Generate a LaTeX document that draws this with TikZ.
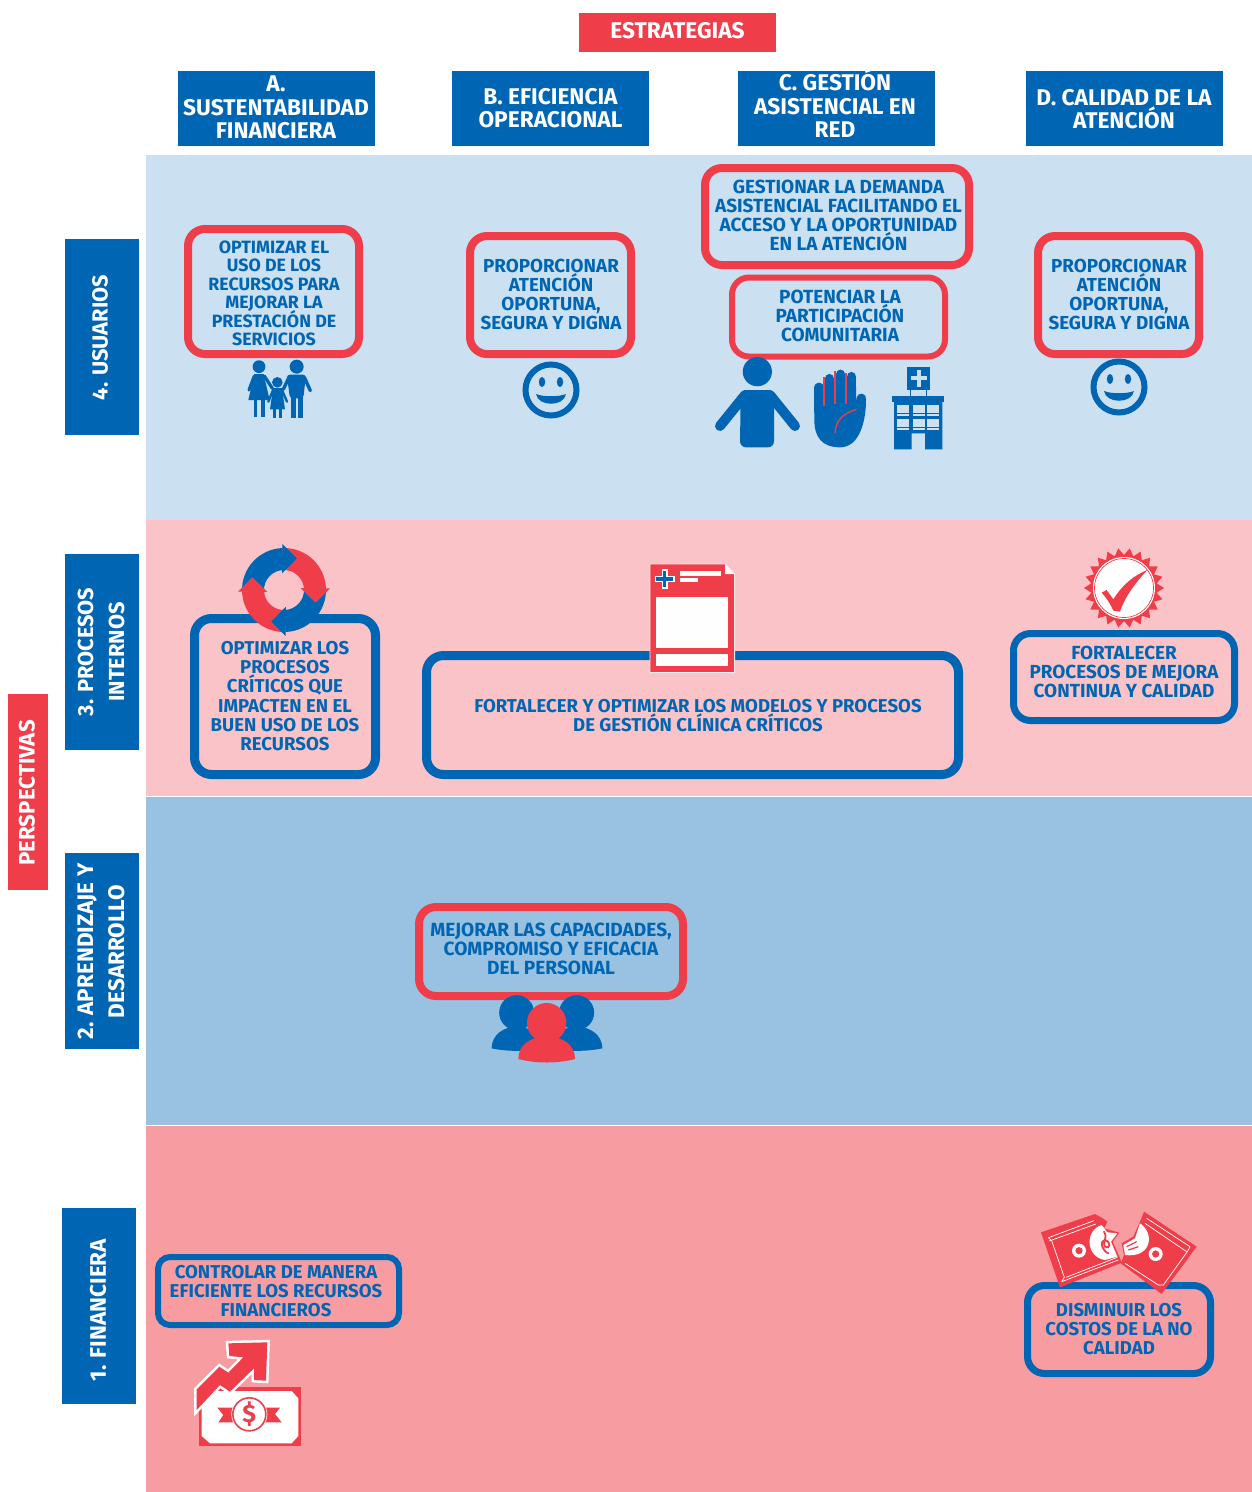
\documentclass[tikz,border=0pt]{standalone}
\usepackage{fontspec}
\setmainfont{Fira Sans}
\definecolor{cred}{HTML}{EF3E4A}
\definecolor{cblue}{HTML}{0066B3}
\definecolor{band1}{HTML}{CBE0F0}
\definecolor{band2}{HTML}{F9C3C7}
\definecolor{band3}{HTML}{99C2E2}
\definecolor{band4}{HTML}{F79CA1}
\newcommand\fsz[2]{\bfseries\fontsize{#1}{#2}\selectfont\lineskiplimit=-30pt\relax}
\tikzset{
 hbox/.style={fill=#1,inner sep=0pt,minimum width=197pt,minimum height=75pt},
 htxt/.style={text=white,font=\fsz{22.7}{23.5},align=center,inner sep=0pt},
 sbox/.style={fill=#1,inner sep=0pt,minimum width=74pt,minimum height=196pt},
 stxt/.style={text=white,font=\fsz{#1}{31},align=center,inner sep=0pt,rotate=90},
 rbox/.style={draw=#1,rounded corners=17pt,inner sep=0pt,outer sep=0pt,line width=8pt},
 ltxt/.style={text=cblue,font=\fsz{#1}{19},align=center,inner sep=0pt},
 z/.style 2 args={shift={(#1,#2)},x=.33333pt,y=-.33333pt},
}
\newcommand\smileyicon[2]{%
 \begin{scope}[shift={(#1,#2)}]
  \draw[cblue,line width=6pt] (0,0) circle (25.5pt);
  \fill[cblue] (-9,-8) ellipse (3.2pt and 5pt);
  \fill[cblue] (9,-8) ellipse (3.2pt and 5pt);
  \fill[cblue] (-15,4) .. controls (-8,7) and (8,7) .. (15,4) .. controls (13,17) and (-13,17) .. (-15,4) -- cycle;
 \end{scope}}
\begin{document}
\begin{tikzpicture}[x=1pt,y=-1pt]
\useasboundingbox (0,0) rectangle (1252,1492);
\fill[white] (0,0) rectangle (1252,1492);
% bands
\fill[band1] (146,155) rectangle (1252,520);
\fill[band2] (146,520) rectangle (1252,796);
\fill[band3] (146,797) rectangle (1252,1125);
\fill[band4] (146,1126) rectangle (1252,1492);
% headers
\node[hbox=cred,minimum height=39pt] (est) at (677.5,32.5) {};
\node[htxt] (estt) at (677.5,31) {ESTRATEGIAS};
\node[hbox=cblue] (ha) at (276.5,108.5) {};
\node[htxt] (hat) at (276,107.5) {A.\\SUSTENTABILIDAD\\FINANCIERA};
\node[hbox=cblue] (hb) at (550.5,108.5) {};
\node[htxt] (hbt) at (550.5,108) {B. EFICIENCIA\\OPERACIONAL};
\node[hbox=cblue] (hc) at (836.5,108.5) {};
\node[htxt] (hct) at (835,103.5) {C. GESTIÓN\\ASISTENCIAL EN\\RED};
\node[hbox=cblue] (hd) at (1124.5,108.5) {};
\node[htxt] (hdt) at (1124,109) {D. CALIDAD DE LA\\ATENCIÓN};
% side labels
\node[sbox=cblue] (s4) at (102,337) {};
\node[stxt=21.8] (s4t) at (100,337.5) {4. USUARIOS};
\node[sbox=cblue] (s3) at (102,652) {};
\node[stxt=21.8] (s3t) at (101,652) {3. PROCESOS\\INTERNOS};
\node[sbox=cblue] (s2) at (102,951) {};
\node[stxt=22.5] (s2t) at (101,951.5) {2. APRENDIZAJE Y\\DESARROLLO};
\node[sbox=cblue] (s1) at (99,1306) {};
\node[stxt=22.5] (s1t) at (98,1310) {1. FINANCIERA};
\node[sbox=cred,minimum width=40pt] (persp) at (28,792) {};
\node[stxt=22.3] (perspt) at (27,793) {PERSPECTIVAS};
% boxes row 4
\node[rbox=cred,minimum width=171pt,minimum height=125pt] (a4) at (273.5,291.5) {};
\node[ltxt=17.8,font=\fsz{17.8}{18.5}] (a4t) at (274,293.5) {OPTIMIZAR EL\\USO DE LOS\\RECURSOS PARA\\MEJORAR LA\\PRESTACIÓN DE\\SERVICIOS};
\node[rbox=cred,minimum width=161pt,minimum height=118pt] (b4) at (550.5,295) {};
\node[ltxt=18.8] (b4t) at (551,294.5) {PROPORCIONAR\\ATENCIÓN\\OPORTUNA,\\SEGURA Y DIGNA};
\node[rbox=cred,minimum width=264pt,minimum height=97pt] (c4a) at (837,216.5) {};
\node[ltxt=19] (c4at) at (838.5,215.5) {GESTIONAR LA DEMANDA\\ASISTENCIAL FACILITANDO EL\\ACCESO Y LA OPORTUNIDAD\\EN LA ATENCIÓN};
\node[rbox=cred,line width=6pt,minimum width=213pt,minimum height=79pt] (c4b) at (838.5,317) {};
\node[ltxt=19] (c4bt) at (840,316) {POTENCIAR LA\\PARTICIPACIÓN\\COMUNITARIA};
\node[rbox=cred,minimum width=161pt,minimum height=118pt] (d4) at (1118.5,295) {};
\node[ltxt=18.8] (d4t) at (1119,294.5) {PROPORCIONAR\\ATENCIÓN\\OPORTUNA,\\SEGURA Y DIGNA};
% boxes row 3
\node[rbox=cblue,line width=9pt,minimum width=181pt,minimum height=156pt] (a3) at (285,696.5) {};
\node[ltxt=18.6,font=\fsz{18.6}{19.2}] (a3t) at (285,696) {OPTIMIZAR LOS\\PROCESOS\\CRÍTICOS QUE\\IMPACTEN EN EL\\BUEN USO DE LOS\\RECURSOS};
\node[rbox=cblue,line width=9pt,minimum width=532pt,minimum height=119pt] (bc3) at (692.5,715) {};
\node[ltxt=18.6] (bc3t) at (698,716) {FORTALECER Y OPTIMIZAR LOS MODELOS Y PROCESOS\\DE GESTIÓN CLÍNICA CRÍTICOS};
\node[rbox=cblue,line width=7pt,minimum width=221pt,minimum height=87pt] (d3) at (1124,677) {};
\node[ltxt=18.9] (d3t) at (1124,671.5) {FORTALECER\\PROCESOS DE MEJORA\\CONTINUA Y CALIDAD};
% row 2
\node[rbox=cred,minimum width=264pt,minimum height=89pt] (b2) at (551,951.5) {};
\node[ltxt=19.1] (b2t) at (551,949) {MEJORAR LAS CAPACIDADES,\\COMPROMISO Y EFICACIA\\DEL PERSONAL};
% row 1
\node[rbox=cblue,line width=6pt,rounded corners=12pt,minimum width=241pt,minimum height=68pt] (a1) at (278.5,1291) {};
\node[ltxt=18.6] (a1t) at (276,1291) {CONTROLAR DE MANERA\\EFICIENTE LOS RECURSOS\\FINANCIEROS};
\node[rbox=cblue,line width=7pt,minimum width=183pt,minimum height=88pt] (d1) at (1119,1329.5) {};
\node[ltxt=18.6] (d1t) at (1119,1329) {DISMINUIR LOS\\COSTOS DE LA NO\\CALIDAD};
% family icon
\begin{scope}[z={235}{350},cblue,line cap=round,line join=round]
 \fill (72,50) circle (6.4pt);
 \fill (185,50) circle (7pt);
 \fill (127,97) circle (5.3pt);
 \fill (58,72) -- (86,72) -- (104,150) -- (40,150) -- cycle;
 \draw[line width=3.2pt] (58,78) -- (42,120);
 \draw[line width=3.2pt] (88,78) -- (112,115);
 \draw[line width=3.6pt,line cap=butt] (62,145) -- (62,201);
 \draw[line width=3.6pt,line cap=butt] (84,145) -- (84,201);
 \fill[rounded corners=3pt] (155,74) -- (213,74) -- (205,145) -- (165,145) -- cycle;
 \draw[line width=3.4pt] (162,82) -- (145,118);
 \draw[line width=3.4pt] (208,82) -- (226,122);
 \draw[line width=5pt,line cap=butt] (175,140) -- (175,203);
 \draw[line width=5pt,line cap=butt] (196,140) -- (196,203);
 \fill (114,114) -- (141,114) -- (150,178) -- (105,178) -- cycle;
 \draw[line width=2.4pt] (115,118) -- (100,155);
 \draw[line width=2.4pt] (140,118) -- (156,155);
 \draw[line width=3pt,line cap=butt] (118,175) -- (118,203);
 \draw[line width=3pt,line cap=butt] (137,175) -- (137,203);
\end{scope}
\smileyicon{551}{390}
\smileyicon{1119}{387}
% person, hand, hospital
\begin{scope}[z={690}{350}]
 \fill[cblue] (202,65) circle (14.6pt);
 \fill[cblue,rounded corners=6pt] (152,120) -- (252,120) -- (252,292) -- (150,292) -- cycle;
 \draw[cblue,line width=10pt,line cap=round] (165,135) -- (90,228);
 \draw[cblue,line width=10pt,line cap=round] (240,135) -- (315,228);
 \fill[cblue] (373,110) -- (498,110) -- (498,150) -- (528,150) .. controls (528,210) and (510,292) .. (450,292) .. controls (395,292) and (373,260) .. (373,210) -- cycle;
 \draw[cblue,line width=9.5pt,line cap=round] (387,185) -- (387,112);
 \draw[cblue,line width=9.5pt,line cap=round] (418,185) -- (418,86);
 \draw[cblue,line width=9.5pt,line cap=round] (452,185) -- (452,73);
 \draw[cblue,line width=9.5pt,line cap=round] (484,185) -- (484,80);
 \draw[cblue,line width=9.5pt,line cap=round] (514,145) -- (505,195);
 \draw[cred,line width=1.1pt] (402,168) -- (402,82);
 \draw[cred,line width=1.1pt] (435,162) -- (435,62);
 \draw[cred,line width=1.1pt] (468,162) -- (468,68);
 \draw[cred,line width=1.3pt] (435,250) .. controls (437,210) and (460,190) .. (500,178);
 \fill[cblue] (652,50) rectangle (720,120);
 \fill[band1] (680,60) rectangle (692,110);
 \fill[band1] (662,79) rectangle (710,91);
 \draw[cblue,line width=.8pt] (662,120) -- (662,138) (708,120) -- (708,138);
 \fill[cblue] (605,138) rectangle (763,155);
 \fill[cblue] (612,155) -- (757,155) -- (757,298) -- (705,298) -- (705,250) -- (665,250) -- (665,298) -- (612,298) -- cycle;
 \foreach \wx in {622,668,712}{
  \fill[band1] (\wx,165) rectangle ++(36,25);
  \fill[band1] (\wx,193) rectangle ++(36,4);
  \fill[band1] (\wx,207) rectangle ++(36,25);
  \fill[band1] (\wx,235) rectangle ++(36,4);
 }
\end{scope}
% cycle icon
\begin{scope}[shift={(284,590)}]
 \foreach \a/\c in {92/cblue,2/cred,-88/cblue,-178/cred}{
  \fill[\c] ({\a+90}:42pt) arc[start angle=\a+90,end angle=\a,radius=42pt] -- (\a:20pt) arc[start angle=\a,end angle=\a+90,radius=20pt] -- cycle;
 }
 \foreach \a/\c in {92/cblue,2/cred,-88/cblue,-178/cred}{
  \fill[\c] (\a:46pt) -- ({\a-24}:34pt) -- ({\a+4}:17pt) -- cycle;
 }
\end{scope}
% document icon
\begin{scope}[z={630}{555}]
 \fill[cred,draw=white!70!band2,line width=.9pt] (60,27) -- (285,27) -- (314,57) -- (314,353) -- (60,353) -- cycle;
 \fill[white!90!band2] (285,27) -- (314,57) -- (285,57) -- cycle;
 \fill[white!98!band2] (78,125) rectangle (295,280);
 \fill[white!98!band2] (78,298) rectangle (295,332);
 \fill[white!98!band2] (150,47) rectangle (272,64);
 \fill[white!98!band2] (150,68) rectangle (205,82);
 \fill[white] (95,42) rectangle (113,102);
 \fill[white] (74,63) rectangle (134,81);
 \fill[cblue] (99,47) rectangle (109,97);
 \fill[cblue] (79,67) rectangle (129,77);
\end{scope}
% seal icon
\begin{scope}[shift={(1124,588)}]
 \fill[cred,line join=round] (0:40pt) \foreach \i [evaluate=\i as \rr using {mod(\i,2)==0 ? 40 : 33}] in {1,...,43} { -- ({\i*360/44}:\rr pt) } -- cycle;
 \fill[white] (0,0) circle (31pt);
 \draw[cred,line width=.7pt] (0,0) circle (29.5pt);
\end{scope}
\begin{scope}[z={1070}{540}]
 \fill[cred] (95,158) -- (110,150) -- (130,178) .. controls (160,130) and (195,105) .. (232,90) .. controls (195,130) and (165,170) .. (150,215) -- (130,212) .. controls (120,190) and (108,172) .. (95,158) -- cycle;
\end{scope}
% team icon
\begin{scope}[z={480}{985}]
 \fill[cblue] (110,83) circle (17.5pt);
 \fill[cblue] (290,83) circle (17.5pt);
 \fill[cblue] (35,190) .. controls (35,150) and (70,125) .. (110,125) .. controls (150,125) and (190,150) .. (190,190) .. controls (140,200) and (80,200) .. (35,190) -- cycle;
 \fill[cblue] (210,190) .. controls (210,150) and (250,125) .. (290,125) .. controls (330,125) and (367,150) .. (367,190) .. controls (320,200) and (260,200) .. (210,190) -- cycle;
 \fill[cred] (200,113) circle (19.7pt);
 \fill[cred] (115,222) .. controls (115,180) and (150,155) .. (200,155) .. controls (250,155) and (285,180) .. (285,222) .. controls (230,236) and (170,236) .. (115,222) -- cycle;
\end{scope}
% rising money icon
\begin{scope}[z={180}{1330}]
 \fill[cred] (58,170) rectangle (362,348);
 \fill[white] (85,183) -- (335,183) -- (355,205) -- (355,318) -- (335,340) -- (90,340) -- (65,318) -- (65,205) -- cycle;
 \fill[cred] (112,233) -- (300,233) -- (285,252) -- (305,277) -- (115,277) -- (130,255) -- cycle;
 \fill[white] (208,253) circle (18pt);
 \draw[cred,line width=1.6pt] (208,253) circle (16.5pt);
 \node[text=cred,font=\fsz{25}{25},inner sep=0pt] (dollar) at (208,253) {\$};
 \draw[white,line width=5pt,line join=miter] (50,178) -- (118,110) -- (145,128) -- (190,82) -- (148,78) -- (145,40) -- (262,37) -- (258,152) -- (222,150) -- (222,115) -- (150,185) -- (120,165) -- (50,240) -- cycle;
 \fill[cred] (50,178) -- (118,110) -- (145,128) -- (190,82) -- (148,78) -- (145,40) -- (262,37) -- (258,152) -- (222,150) -- (222,115) -- (150,185) -- (120,165) -- (50,240) -- cycle;
\end{scope}
% torn money icon
\begin{scope}[z={1030}{1200}]
 \fill[cred] (33,97) -- (195,42) -- (218,55) -- (232,65) -- (222,85) -- (268,98) -- (248,125) -- (268,170) -- (275,188) -- (90,262) -- cycle;
 \fill[cred] (342,35) -- (500,140) -- (395,282) -- (272,190) -- (282,165) -- (275,130) -- (310,110) -- (330,65) -- cycle;
 \draw[white,line width=.7pt] (55,113) -- (192,62) (58,123) -- (197,72);
 \draw[white,line width=.7pt] (55,113) -- (65,122) -- (103,232) -- (95,245) (95,245) -- (265,180) (108,232) -- (262,172);
 \draw[white,line width=.7pt] (350,55) -- (480,140) -- (472,155) -- (400,255) -- (385,255) -- (285,190) (345,70) -- (470,155);
 \fill[white] (147,152) circle (7pt);
 \fill[cred] (147,152) circle (3.6pt);
 \fill[white] (377,162) circle (7pt);
 \fill[cred] (377,162) circle (3.6pt);
 \fill[white] (215,75) .. controls (165,90) and (165,170) .. (225,180) -- (262,170) -- (243,125) -- (262,100) -- (232,97) -- cycle;
 \fill[white] (330,70) .. controls (375,100) and (365,175) .. (285,165) -- (280,135) -- (315,115) -- cycle;
 \draw[cred,line width=1.8pt,line cap=round] (222,95) .. controls (235,115) and (215,130) .. (225,140) .. controls (240,150) and (245,125) .. (225,120) .. controls (205,125) and (220,155) .. (235,160);
 \draw[cred,line width=1.2pt] (290,140) -- (320,125) (295,150) -- (325,140);
\end{scope}
\end{tikzpicture}
\end{document}
